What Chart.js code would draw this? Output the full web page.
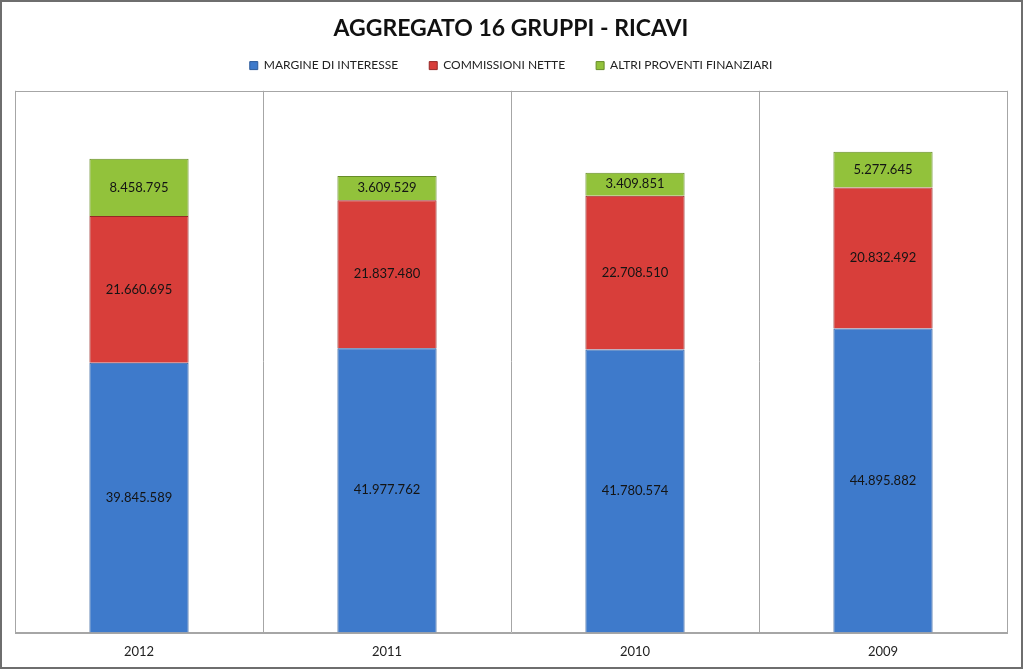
<!DOCTYPE html>
<html lang="it">
  <head>
    <meta charset="UTF-8" />
    <title>Aggregato 16 gruppi - Ricavi</title>
    <style>
      body { margin: 0; background: #fff; }
      .container { width: 1023px; height: 669px; }
    </style>
  </head>
  <body>
    <div class="container">
      <canvas id="myChart" width="1023" height="669"></canvas>
    </div>
    <script src="https://cdn.jsdelivr.net/npm/chart.js@4.4.1/dist/chart.umd.min.js"></script>
    <script>
      // values
      const years = ["2012", "2011", "2010", "2009"];
      const margine = [39845589, 41977762, 41780574, 44895882];
      const commissioni = [21660695, 21837480, 22708510, 20832492];
      const altri = [8458795, 3609529, 3409851, 5277645];

      const FONT = "Lato, 'Open Sans', sans-serif";

      function fmt(v) {
        return String(v).replace(/\B(?=(\d{3})+(?!\d))/g, ".");
      }

      // white background, outer frame and plot frame
      const framePlugin = {
        id: "frame",
        beforeDraw(chart) {
          const c = chart.ctx;
          c.save();
          c.fillStyle = "#fff";
          c.fillRect(0, 0, chart.width, chart.height);
          c.restore();
        },
        afterDraw(chart) {
          const c = chart.ctx;
          const a = chart.chartArea;
          c.save();
          c.strokeStyle = "#a6a6a6";
          c.lineWidth = 1;
          c.strokeRect(Math.round(a.left) + 0.5, Math.round(a.top) + 0.5,
            Math.round(a.right - a.left), Math.round(a.bottom - a.top));
          c.strokeStyle = "#6e6e6e";
          c.lineWidth = 2;
          c.strokeRect(1, 1, chart.width - 2, chart.height - 2);
          c.restore();
        },
      };

      // value labels in the middle of each segment
      const labelPlugin = {
        id: "segLabels",
        afterDatasetsDraw(chart) {
          const c = chart.ctx;
          c.save();
          c.font = "13px " + FONT;
          c.fillStyle = "#141414";
          c.textAlign = "center";
          c.textBaseline = "middle";
          chart.data.datasets.forEach((ds, i) => {
            chart.getDatasetMeta(i).data.forEach((bar, j) => {
              c.fillText(fmt(ds.data[j]), bar.x, (bar.y + bar.base) / 2);
            });
          });
          c.restore();
        },
      };

      const ctx = document.getElementById("myChart").getContext("2d");
      const myChart = new Chart(ctx, {
        type: "bar",
        data: {
          labels: years,
          datasets: [
            {
              label: "MARGINE DI INTERESSE",
              data: margine,
              backgroundColor: "#3e7acb",
              borderColor: "#2b5a9a",
              borderWidth: 1,
            },
            {
              label: "COMMISSIONI NETTE",
              data: commissioni,
              backgroundColor: "#d83e3a",
              borderColor: "#962826",
              borderWidth: 1,
            },
            {
              label: "ALTRI PROVENTI FINANZIARI",
              data: altri,
              backgroundColor: "#92c23b",
              borderColor: "#668c28",
              borderWidth: 1,
            },
          ],
        },
        options: {
          responsive: false,
          animation: false,
          layout: { padding: { left: 15, right: 16, top: 6, bottom: -3 } },
          datasets: {
            bar: { categoryPercentage: 1, barPercentage: 0.4 },
          },
          scales: {
            x: {
              stacked: true,
              grid: {
                offset: true,
                color: "#a6a6a6",
                drawTicks: false,
              },
              border: { color: "#a6a6a6" },
              ticks: {
                color: "#222",
                padding: 12,
                font: { family: FONT, size: 13 },
              },
            },
            y: {
              stacked: true,
              display: false,
              min: 0,
              max: 80000000,
            },
          },
          plugins: {
            title: {
              display: true,
              text: "AGGREGATO 16 GRUPPI - RICAVI",
              color: "#111",
              font: { family: FONT, size: 23, weight: "bold" },
              padding: { top: 9, bottom: -14 },
            },
            // empty subtitle under the legend, only used as a gap above the plot
            subtitle: {
              display: true,
              text: "",
              weight: 500,
              font: { size: 1 },
              padding: { top: 0, bottom: 8 },
            },
            legend: {
              labels: {
                boxWidth: 8,
                boxHeight: 8,
                padding: 31,
                color: "#222",
                font: { family: FONT, size: 12 },
              },
            },
            tooltip: { enabled: false },
          },
        },
        plugins: [framePlugin, labelPlugin],
      });
    </script>
  </body>
</html>
